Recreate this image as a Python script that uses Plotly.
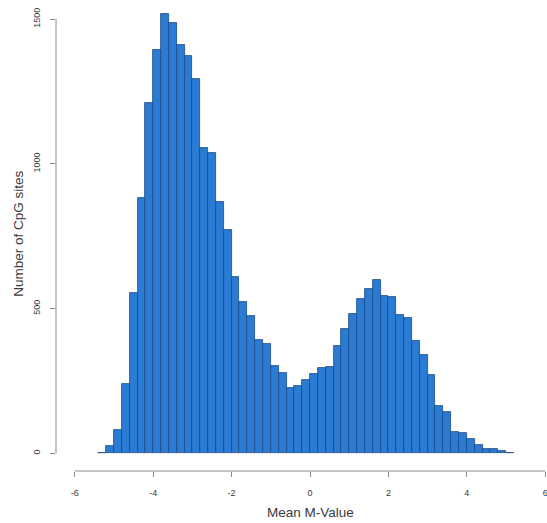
import plotly.graph_objects as go

# Histogram bins (left edges, width 0.2) of mean M-values
bin_left = [-5.4, -5.2, -5.0, -4.8, -4.6, -4.4, -4.2, -4.0, -3.8, -3.6,
            -3.4, -3.2, -3.0, -2.8, -2.6, -2.4, -2.2, -2.0, -1.8, -1.6,
            -1.4, -1.2, -1.0, -0.8, -0.6, -0.4, -0.2, 0.0, 0.2, 0.4,
            0.6, 0.8, 1.0, 1.2, 1.4, 1.6, 1.8, 2.0, 2.2, 2.4,
            2.6, 2.8, 3.0, 3.2, 3.4, 3.6, 3.8, 4.0, 4.2, 4.4,
            4.6, 4.8, 5.0]
counts = [3, 24, 81, 240, 554, 881, 1212, 1393, 1517, 1485,
          1409, 1372, 1294, 1054, 1038, 868, 771, 609, 523, 475,
          393, 378, 301, 279, 227, 233, 255, 275, 295, 298,
          370, 430, 483, 535, 567, 598, 545, 539, 479, 469,
          388, 341, 270, 164, 143, 74, 72, 51, 30, 15,
          15, 9, 2]
bin_width = 0.2

x_ticks = [-6, -4, -2, 0, 2, 4, 6]
x_ticktext = ["-6", "-4", "-2", "0", "2", "4", "6"]
y_ticks = [0, 500, 1000, 1500]
y_ticktext = ["0", "500", "1000", "1500"]

x_title = "Mean M-Value"
y_title = "Number of CpG sites"

AXIS_COLOR = "#8a8a8a"
TEXT_COLOR = "#3a3a3a"
FONT = "Liberation Sans, Arial, sans-serif"

fig = go.Figure()
fig.add_trace(go.Bar(
    x=bin_left,
    y=counts,
    width=bin_width,
    offset=0,
    marker=dict(color="#2a7bd4", line=dict(color="#1d4a80", width=0.8)),
    hoverinfo="x+y",
))

fig.update_layout(
    width=547,
    height=523,
    margin=dict(l=56, r=0, t=0, b=52),
    plot_bgcolor="white",
    paper_bgcolor="white",
    showlegend=False,
    bargap=0,
    font=dict(family=FONT, color=TEXT_COLOR),
    xaxis=dict(
        range=[-6.48, 6.045],
        tickmode="array",
        tickvals=x_ticks,
        ticktext=x_ticktext,
        ticks="outside",
        ticklen=5,
        tickwidth=1,
        tickcolor=AXIS_COLOR,
        tickfont=dict(size=9, color=TEXT_COLOR, family=FONT),
        ticklabelstandoff=8,
        ticklabeloverflow="allow",
        showgrid=False,
        zeroline=False,
        showline=False,
        fixedrange=True,
    ),
    yaxis=dict(
        range=[-60.7, 1566],
        tickmode="array",
        tickvals=y_ticks,
        ticktext=y_ticktext,
        ticks="outside",
        ticklen=5,
        tickwidth=1,
        tickcolor=AXIS_COLOR,
        tickangle=-90,
        tickfont=dict(size=9, color=TEXT_COLOR, family=FONT),
        ticklabelstandoff=6,
        ticklabeloverflow="allow",
        showgrid=False,
        zeroline=False,
        showline=False,
        fixedrange=True,
    ),
    shapes=[
        dict(type="line", xref="x", yref="paper", x0=x_ticks[0], x1=x_ticks[-1],
             y0=0, y1=0, line=dict(color=AXIS_COLOR, width=1)),
        dict(type="line", xref="paper", yref="y", x0=0, x1=0,
             y0=y_ticks[0], y1=y_ticks[-1], line=dict(color=AXIS_COLOR, width=1)),
    ],
    annotations=[
        dict(text=x_title, xref="x", yref="paper", x=0, y=0, yshift=-41,
             xanchor="center", yanchor="middle", showarrow=False,
             font=dict(size=13.5, color=TEXT_COLOR, family=FONT)),
        dict(text=y_title, xref="paper", yref="y", x=0, xshift=-37,
             y=758.5, textangle=-90, xanchor="center", yanchor="middle",
             showarrow=False, font=dict(size=13.5, color=TEXT_COLOR, family=FONT)),
    ],
)

fig.write_html(
    "out.html",
    config={"displayModeBar": False},
    post_script="document.body.style.margin='0';document.body.style.overflow='hidden';",
)
